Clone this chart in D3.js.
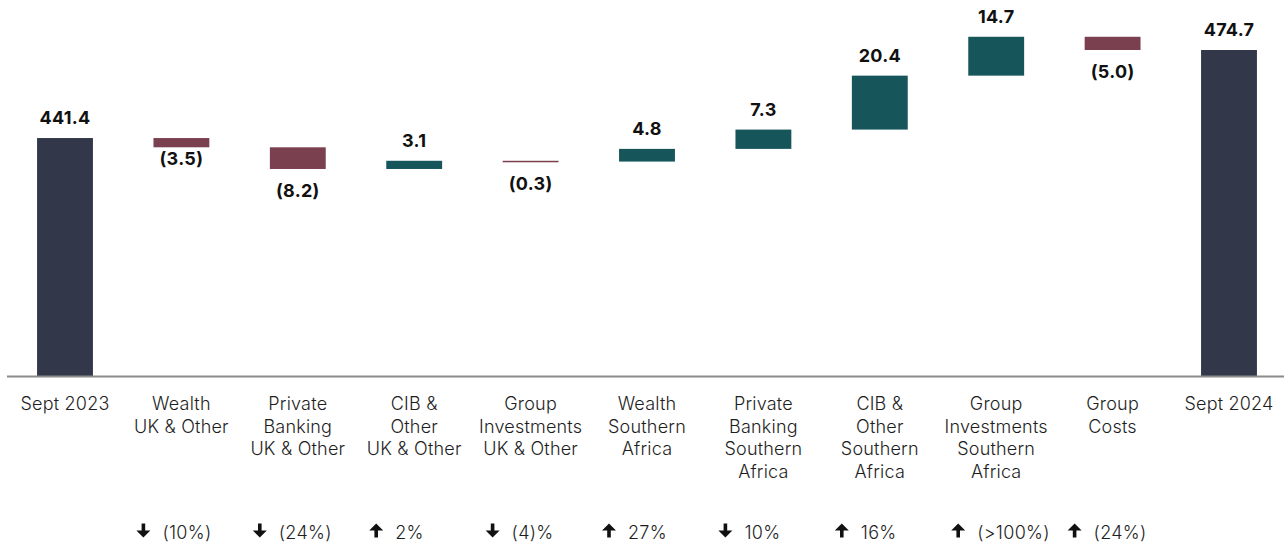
<!DOCTYPE html>
<meta charset="utf-8">
<script src="https://d3js.org/d3.v7.min.js"></script>
<style>
  body { margin: 0; background: #fff; }
  svg { display: block; font-family: Inter, "Noto Sans", sans-serif; }
</style>
<div id="chart"></div>
<script>
// categories along the x axis (line breaks as \n)
var categories = [
  "Sept 2023",
  "Wealth\nUK & Other",
  "Private\nBanking\nUK & Other",
  "CIB &\nOther\nUK & Other",
  "Group\nInvestments\nUK & Other",
  "Wealth\nSouthern\nAfrica",
  "Private\nBanking\nSouthern\nAfrica",
  "CIB &\nOther\nSouthern\nAfrica",
  "Group\nInvestments\nSouthern\nAfrica",
  "Group\nCosts",
  "Sept 2024"
];
// totals at both ends, movements in between
var kinds = ["total", "delta", "delta", "delta", "delta", "delta", "delta", "delta", "delta", "delta", "total"];
var values = [441.4, -3.5, -8.2, 3.1, -0.3, 4.8, 7.3, 20.4, 14.7, -5.0, 474.7];
// percentage change row under the labels
var changeLabels = ["", "(10%)", "(24%)", "2%", "(4)%", "27%", "10%", "16%", "(>100%)", "(24%)", ""];
var changeDirs = ["", "down", "down", "up", "down", "up", "down", "up", "up", "up", ""];

var width = 1284, height = 546;

var svg = d3.select("#chart")
  .append("svg")
  .attr("width", width)
  .attr("height", height);

// build waterfall rows
var running = 0;
var rows = categories.map(function(c, i) {
  var v = values[i], start, end;
  if (kinds[i] === "total") {
    start = null; end = v; running = v;
  } else {
    start = running; end = running + v; running = end;
  }
  return { cat: c, kind: kinds[i], value: v, start: start, end: end,
           change: changeLabels[i], dir: changeDirs[i] };
});

var x = d3.scaleBand()
  .domain(categories)
  .range([6.8, 1287.2])
  .paddingInner(0.52)
  .paddingOuter(0.26);

var y = d3.scaleLinear()
  .domain([351.4, 474.7])
  .range([376, 50]);

var color = { total: "#323849", up: "#16555a", down: "#7b4050" };

// bars
svg.append("g")
  .selectAll("rect")
  .data(rows)
  .enter().append("rect")
  .attr("x", function(d) { return x(d.cat); })
  .attr("width", x.bandwidth())
  .attr("y", function(d) {
    if (d.kind === "total") return y(d.end);
    return y(Math.max(d.start, d.end));
  })
  .attr("height", function(d) {
    var h = d.kind === "total" ? y(y.domain()[0]) - y(d.end) : Math.abs(y(d.start) - y(d.end));
    return Math.max(h, 1.5);
  })
  .attr("fill", function(d) {
    if (d.kind === "total") return color.total;
    return d.value >= 0 ? color.up : color.down;
  });

// baseline
svg.append("line")
  .attr("x1", 7).attr("x2", width)
  .attr("y1", 376.5).attr("y2", 376.5)
  .attr("stroke", "#8a8a8a")
  .attr("stroke-width", 1.8);

// value labels
svg.append("g")
  .selectAll("text")
  .data(rows)
  .enter().append("text")
  .attr("x", function(d) { return x(d.cat) + x.bandwidth() / 2; })
  .attr("y", function(d, i) {
    if (d.kind === "total" || d.value >= 0) return y(d.end) - 14;
    var bottom = y(Math.min(d.start, d.end));
    return bottom + (i === 1 ? 18 : 28);
  })
  .attr("text-anchor", "middle")
  .style("font-size", "18px")
  .style("font-weight", "bold")
  .style("letter-spacing", "0.3px")
  .attr("fill", "#111")
  .text(function(d) {
    if (d.kind === "total" || d.value >= 0) return d3.format(".1f")(d.value);
    return "(" + d3.format(".1f")(-d.value) + ")";
  });

// category labels
var catLabels = svg.append("g")
  .selectAll("text")
  .data(rows)
  .enter().append("text")
  .attr("text-anchor", "middle")
  .style("font-size", "18px")
  .style("font-weight", 300)
  .style("letter-spacing", "0.2px")
  .attr("fill", "#1e1e1e");

catLabels.each(function(d) {
  var t = d3.select(this);
  var cx = x(d.cat) + x.bandwidth() / 2;
  d.cat.split("\n").forEach(function(line, j) {
    t.append("tspan")
      .attr("x", cx)
      .attr("y", 410 + j * 22.6)
      .text(line);
  });
});

// change row: arrow + percentage
var change = svg.append("g")
  .selectAll("g")
  .data(rows.filter(function(d) { return d.change !== ""; }))
  .enter().append("g")
  .attr("transform", function(d) {
    return "translate(" + (x(d.cat) + x.bandwidth() / 2 - 38) + ",530.5)";
  });

change.append("path")
  .attr("d", function(d) {
    // arrow centred on 0,0, total height 14
    if (d.dir === "down") return "M-1.8,-7 L1.8,-7 L1.8,0 L7,0 L0,7 L-7,0 L-1.8,0 Z";
    return "M-1.8,7 L1.8,7 L1.8,0 L7,0 L0,-7 L-7,0 L-1.8,0 Z";
  })
  .attr("fill", "#111");

change.append("text")
  .attr("x", 19)
  .attr("y", 8)
  .style("font-size", "18px")
  .style("font-weight", 300)
  .style("letter-spacing", "0.3px")
  .attr("fill", "#1e1e1e")
  .text(function(d) { return d.change; });
</script>
